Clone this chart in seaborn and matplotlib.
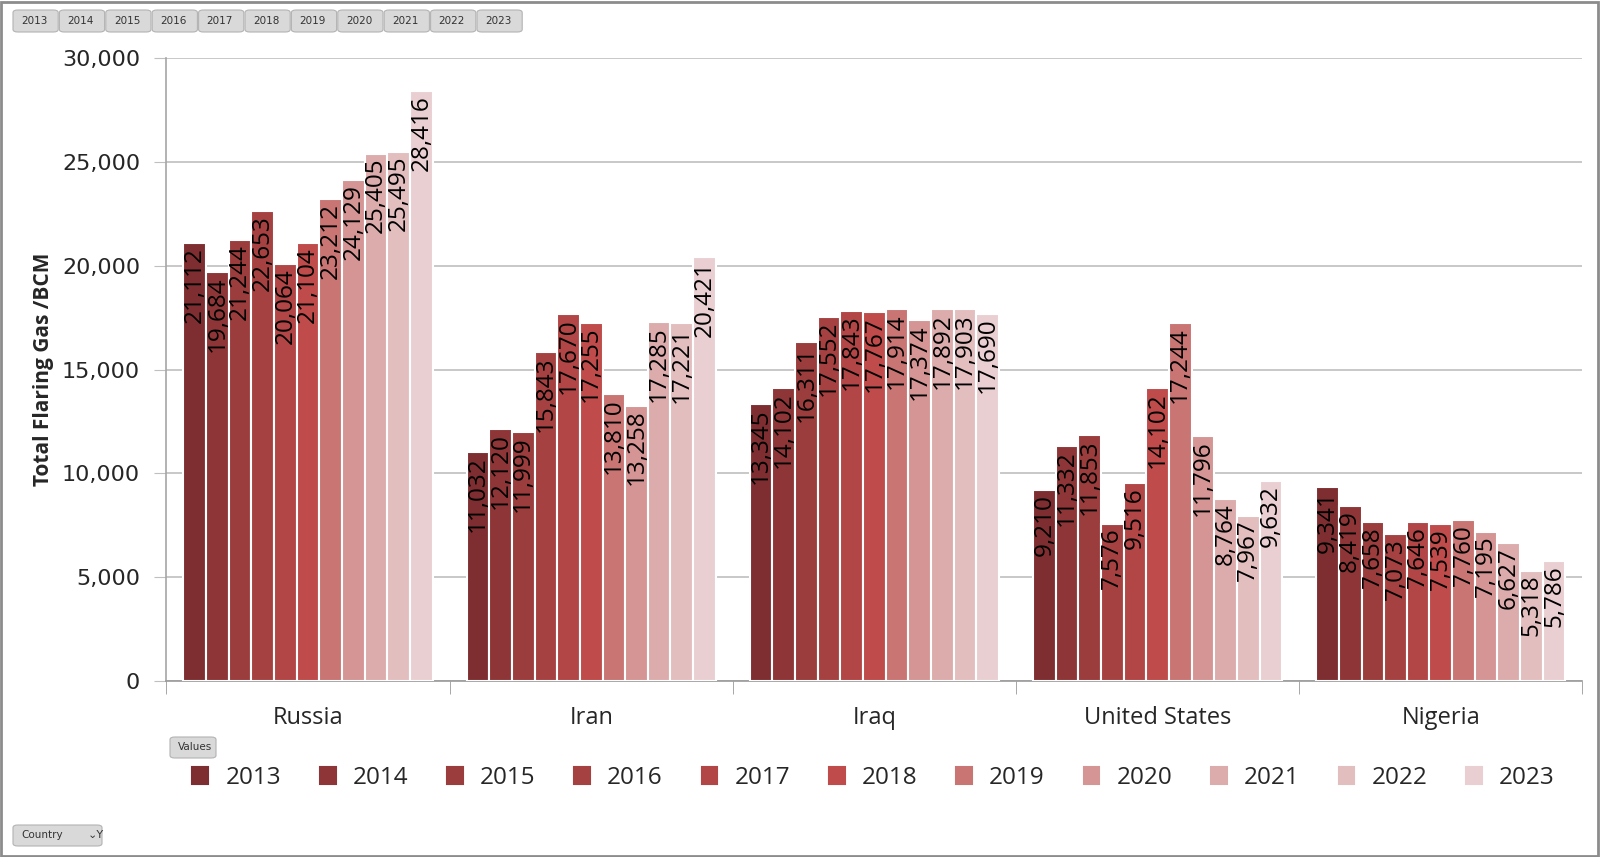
import pandas as pd
import seaborn as sns
import matplotlib.pyplot as plt
from matplotlib.patches import FancyBboxPatch, Rectangle
from matplotlib.ticker import FuncFormatter, FixedLocator

# total flaring gas by country and year
countries = ['Russia', 'Iran', 'Iraq', 'United States', 'Nigeria']
years = ['2013', '2014', '2015', '2016', '2017', '2018',
         '2019', '2020', '2021', '2022', '2023']
russia = [21112, 19684, 21244, 22653, 20064, 21104, 23212, 24129, 25405, 25495, 28416]
iran = [11032, 12120, 11999, 15843, 17670, 17255, 13810, 13258, 17285, 17221, 20421]
iraq = [13345, 14102, 16311, 17552, 17843, 17767, 17914, 17374, 17892, 17903, 17690]
united_states = [9210, 11332, 11853, 7576, 9516, 14102, 17244, 11796, 8764, 7967, 9632]
nigeria = [9341, 8419, 7658, 7073, 7646, 7539, 7760, 7195, 6627, 5318, 5786]

colors = ['#7e2e30', '#8e3637', '#9b3c3d', '#a64141', '#b24545', '#bf4b4b',
          '#c97574', '#d49594', '#dcacac', '#e3bebf', '#eacfd2']

rows = []
for country, vals in zip(countries, [russia, iran, iraq, united_states, nigeria]):
    for year, v in zip(years, vals):
        rows.append({'Country': country, 'Year': year, 'Value': v})
df = pd.DataFrame(rows)

sns.set_style('white')
plt.rcParams['font.family'] = ['Open Sans', 'DejaVu Sans']

fig = plt.figure(figsize=(16, 8.57), dpi=100)
ax = fig.add_axes([0.104, 0.2054, 0.885, 0.7268])

sns.barplot(
    data=df, x='Country', y='Value', hue='Year',
    order=countries, hue_order=years, palette=colors, saturation=1,
    width=0.88, edgecolor='white', linewidth=1.5,
    errorbar=None, ax=ax, zorder=3
)

# rotated value labels inside the top of each bar
for cont in ax.containers:
    for bar in cont:
        h = bar.get_height()
        ax.annotate(f'{h:,.0f}', (bar.get_x() + bar.get_width() / 2, h),
                    xytext=(0, -3), textcoords='offset points',
                    rotation=90, ha='center', va='top',
                    fontsize=17.5, color='black', zorder=5)

ax.set_ylim(0, 30000)
ax.set_xlim(-0.5, len(countries) - 0.5)
ax.yaxis.set_major_locator(FixedLocator(range(0, 30001, 5000)))
ax.yaxis.set_major_formatter(FuncFormatter(lambda v, p: f'{v:,.0f}'))
ax.grid(axis='y', color='#bfbfbf', linewidth=1.2, zorder=0)
ax.set_axisbelow(True)
for t in ax.get_yticklabels():
    t.set_fontfamily('DejaVu Sans')
ax.tick_params(axis='y', labelsize=16, length=9, color='#bfbfbf', pad=10, left=True)
ax.tick_params(axis='x', which='major', labelsize=17, length=0, pad=18)
ax.set_xticks([i - 0.5 for i in range(len(countries) + 1)], minor=True)
ax.tick_params(axis='x', which='minor', length=9, color='#999999', bottom=True)

ax.set_xlabel('')
ax.set_ylabel('Total Flaring Gas /BCM', fontsize=15, fontweight='bold', labelpad=6)

for s in ['top', 'right']:
    ax.spines[s].set_visible(False)
ax.spines['left'].set_color('#a6a6a6')
ax.spines['bottom'].set_color('#999999')
ax.spines['left'].set_linewidth(1.2)
ax.spines['bottom'].set_linewidth(1.2)

handles, labels = ax.get_legend_handles_labels()
ax.legend_.remove()
for hd, c in zip(handles, colors):
    hd.set_edgecolor(c)
fig.legend(handles, labels, ncol=11, loc='center', bbox_to_anchor=(0.546, 1 - 778 / 857),
           frameon=False, fontsize=17.5, handlelength=0.65, handleheight=0.65,
           handletextpad=0.7, columnspacing=1.6)


# pivot-chart style buttons
def button(x0, y0, w, h, text, size=7.5):
    fx, fy = x0 / 1600, 1 - (y0 + h) / 857
    fig.patches.append(FancyBboxPatch(
        (fx, fy), w / 1600, h / 857, boxstyle='round,pad=0,rounding_size=0.003',
        transform=fig.transFigure, facecolor='#d9d9d9', edgecolor='#b3b3b3', linewidth=0.8))
    fig.text(fx + 0.005, fy + h / 857 / 2, text, fontsize=size, color='#333333',
             ha='left', va='center', family='DejaVu Sans')


for i, y in enumerate(years):
    button(13 + i * 46.4, 10, 45.2, 22, y)
button(170, 737, 46, 21, 'Values')
button(13, 825, 89, 21, 'Country')
fig.text(88 / 1600, 1 - 835 / 857, '\u2304Y', fontsize=8, color='#333333',
         ha='left', va='center', family='DejaVu Sans')

fig.patches.append(Rectangle((0.0005, 0.001), 0.998, 0.997, transform=fig.transFigure,
                             fill=False, edgecolor='#8c8c8c', linewidth=2))

fig.savefig('out.png', dpi=100)
